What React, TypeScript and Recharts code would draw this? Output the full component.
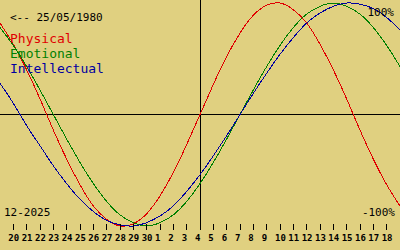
import React from 'react';
import { ComposedChart, Line, XAxis, YAxis, ReferenceLine } from 'recharts';

// days shown on the axis (20 Nov .. 18 Dec)
const dayLabels = [
  '20', '21', '22', '23', '24', '25', '26', '27', '28', '29', '30',
  '1', '2', '3', '4', '5', '6', '7', '8', '9', '10', '11', '12', '13', '14', '15', '16', '17', '18',
];

// values per day, 19 Nov .. 19 Dec (-1 .. 1)
const physical = [
  0.82, 0.63, 0.4, 0.14, -0.14, -0.4, -0.63, -0.82, -0.94, -1.0, -0.98, -0.89, -0.73, -0.52, -0.27,
  0, 0.27, 0.52, 0.73, 0.89, 0.98, 1.0, 0.94, 0.82, 0.63, 0.4, 0.14, -0.14, -0.4, -0.63, -0.82,
];
const emotional = [
  0.78, 0.62, 0.43, 0.22, 0, -0.22, -0.43, -0.62, -0.78, -0.9, -0.97, -1.0, -0.97, -0.9, -0.78,
  -0.62, -0.43, -0.22, 0, 0.22, 0.43, 0.62, 0.78, 0.9, 0.97, 1.0, 0.97, 0.9, 0.78, 0.62, 0.43,
];
const intellectual = [
  0.28, 0.1, -0.1, -0.28, -0.46, -0.62, -0.76, -0.87, -0.95, -0.99, -1.0, -0.97, -0.91, -0.82, -0.69,
  -0.54, -0.37, -0.19, 0, 0.19, 0.37, 0.54, 0.69, 0.82, 0.91, 0.97, 1.0, 0.99, 0.95, 0.87, 0.76,
];

const todayIndex = 15;
const birthText = '<-- 25/05/1980';
const monthText = '12-2025';

const data = physical.map((p, i) => ({
  x: i,
  physical: p,
  emotional: emotional[i],
  intellectual: intellectual[i],
}));

const ticks = dayLabels.map((_, i) => i + 1);

const mono = '"DejaVu Sans Mono", monospace';

const DayTick = (props: any) => {
  const { x, y, payload } = props;
  return (
    <g>
      <line x1={x} x2={x} y1={y - 2} y2={y + 4} stroke="#000" shapeRendering="crispEdges" />
      <text
        x={x - 5}
        y={y + 15}
        fontFamily={mono}
        fontSize={9}
        fontWeight="bold"
        fill="#000"
        textAnchor="start"
      >
        {dayLabels[payload.value - 1]}
      </text>
    </g>
  );
};

export default function App() {
  return (
    <div
      style={{
        position: 'fixed',
        left: 0,
        top: 0,
        width: 400,
        height: 250,
        background: '#e0d080',
      }}
    >
      <ComposedChart
        width={400}
        height={250}
        data={data}
        margin={{ top: 3, right: 0, bottom: 0, left: 0 }}
      >
        <XAxis
          dataKey="x"
          type="number"
          domain={[0, 30]}
          ticks={ticks}
          interval={0}
          height={24}
          axisLine={false}
          tickLine={false}
          tickSize={0}
          tickMargin={0}
          tick={<DayTick />}
        />
        <YAxis hide domain={[-1, 1]} />
        <ReferenceLine y={0} stroke="#000" shapeRendering="crispEdges" />
        <ReferenceLine
          segment={[
            { x: todayIndex, y: 1.03 },
            { x: todayIndex, y: -1.03 },
          ]}
          stroke="#000"
          ifOverflow="visible"
          shapeRendering="crispEdges"
        />
        <Line
          type="natural"
          dataKey="physical"
          stroke="#e00000"
          strokeWidth={1}
          dot={false}
          shapeRendering="crispEdges"
          isAnimationActive={false}
        />
        <Line
          type="natural"
          dataKey="emotional"
          stroke="#008000"
          strokeWidth={1}
          dot={false}
          shapeRendering="crispEdges"
          isAnimationActive={false}
        />
        <Line
          type="natural"
          dataKey="intellectual"
          stroke="#0000a0"
          strokeWidth={1}
          dot={false}
          shapeRendering="crispEdges"
          isAnimationActive={false}
        />
      </ComposedChart>
      <svg
        width={400}
        height={250}
        style={{ position: 'absolute', left: 0, top: 0, pointerEvents: 'none' }}
      >
        <g fontFamily={mono} fontSize={11}>
          <text x={10} y={21} fill="#000">{birthText}</text>
          <text x={394} y={16} fill="#000" textAnchor="end">100%</text>
          <text x={395} y={216} fill="#000" textAnchor="end">-100%</text>
          <text x={4} y={216} fill="#000">{monthText}</text>
        </g>
        <g fontFamily={mono} fontSize={13}>
          <text x={10} y={43} fill="#e00000">Physical</text>
          <text x={10} y={58} fill="#008000">Emotional</text>
          <text x={10} y={73} fill="#0000a0">Intellectual</text>
        </g>
      </svg>
    </div>
  );
}
